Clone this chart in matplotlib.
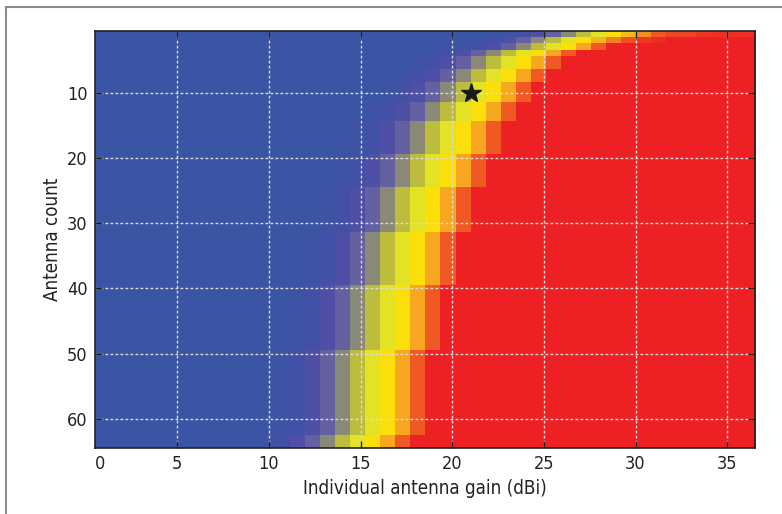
import numpy as np
import matplotlib
matplotlib.use('Agg')
import matplotlib.pyplot as plt
from matplotlib.colors import LinearSegmentedColormap
from matplotlib.lines import Line2D
from matplotlib import font_manager

# %%
# Values
n_rows = 64          # antenna count 1..64
n_cols = 44          # gain cells over 0.5..36.5 dBi
gain_lo, gain_hi = 0.5, 36.5

# column (0-based) of the bright yellow cell in each row, top row first
yellow_col = [34, 32, 31, 29, 28, 28, 27, 27, 26, 26,
              26, 25, 25, 25, 24, 24, 24, 24, 24, 23,
              23, 23, 23, 23, 22, 22, 22, 22, 22, 22,
              22, 21, 21, 21, 21, 21, 21, 21, 21, 20,
              20, 20, 20, 20, 20, 20, 20, 20, 20, 19,
              19, 19, 19, 19, 19, 19, 19, 19, 19, 19,
              19, 19, 18, 18]

# colour level of the cells around the yellow one, from yellow_col-7 to yellow_col+3
profile = [0.5, 1, 2, 3, 4, 5, 6, 7, 8, 9, 10]
# the first two rows have a longer orange/red tail on the right
profile_row1 = [0.5, 1, 2, 3, 4, 5, 6, 7, 7.6, 8.3, 9, 9.3, 9.3, 9.6, 9.7, 9.7, 9.7, 9.8, 9.8]
profile_row2 = [0.5, 1, 2, 3, 4, 5, 6, 7, 7.7, 8.5, 9.2, 9.6, 9.8]

# colour of each level 0..10
level_colors = ['#3a55a4', '#4351a6', '#4f4fa6', '#6562a2', '#8a8978', '#bebc3e',
                '#e4e224', '#fce00a', '#f7a61f', '#f15a24', '#ed2124']

star_gain, star_count = 21, 10
xticks = [5, 10, 15, 20, 25, 30, 35]
yticks = [10, 20, 30, 40, 50, 60]

# %%
# Build the cell matrix
Z = np.zeros((n_rows, n_cols))
for r, ky in enumerate(yellow_col):
    prof = profile
    if r == 0:
        prof = profile_row1
    elif r == 1:
        prof = profile_row2
    start = ky - 7
    Z[r, start + len(prof):] = 10
    for i, v in enumerate(prof):
        c = start + i
        if 0 <= c < n_cols:
            Z[r, c] = v

cmap = LinearSegmentedColormap.from_list(
    'gain', [(i / 10, col) for i, col in enumerate(level_colors)])

# %%
# condensed face if one is around
names = {f.name for f in font_manager.fontManager.ttflist}
if 'Liberation Sans Narrow' in names:
    plt.rcParams['font.family'] = ['Liberation Sans Narrow', 'DejaVu Sans']
else:
    plt.rcParams['font.family'] = ['DejaVu Sans']
    plt.rcParams['font.stretch'] = 'condensed'

fig = plt.figure(figsize=(7.82, 5.14), dpi=100)
ax = fig.add_axes([0.1211, 0.1284, 0.844, 0.8113])

ax.imshow(Z, cmap=cmap, vmin=0, vmax=10, aspect='auto', interpolation='nearest',
          extent=(gain_lo, gain_hi, n_rows + 0.5, 0.5))
ax.plot(star_gain, star_count, marker='*', color='#1a1a1a', markersize=15, linestyle='none')

ax.set_xlim(gain_lo, gain_hi)
ax.set_ylim(n_rows + 0.5, 0.5)
ax.set_xticks(xticks)
ax.set_yticks(yticks)
# the '0' label sits at the left edge without a tick
ax.set_xticks([0.8], minor=True)
ax.set_xticklabels(['0'], minor=True)
ax.tick_params(which='major', direction='in', length=5, width=1, color='#222222',
               top=True, right=True, labelsize=13, pad=5, labelcolor='#222222')
ax.tick_params(which='minor', direction='in', length=0, labelsize=13, pad=5,
               labelcolor='#222222')
ax.grid(True, which='major', color='#dddddd', linestyle=(0, (2, 1.6)), linewidth=1)
for s in ax.spines.values():
    s.set_color('#222222')
    s.set_linewidth(1.2)

ax.set_xlabel('Individual antenna gain (dBi)', fontsize=13.5, color='#222222', labelpad=4)
ax.set_ylabel('Antenna count', fontsize=13.5, color='#222222', labelpad=4)

# grey frame around the figure
fig.add_artist(Line2D([0.008, 1.0], [0.987, 0.987], color='#8c8c8c', linewidth=1.5))
fig.add_artist(Line2D([0.008, 0.008], [0.0, 0.987], color='#8c8c8c', linewidth=1.5))

plt.savefig('out.png', dpi=100)
